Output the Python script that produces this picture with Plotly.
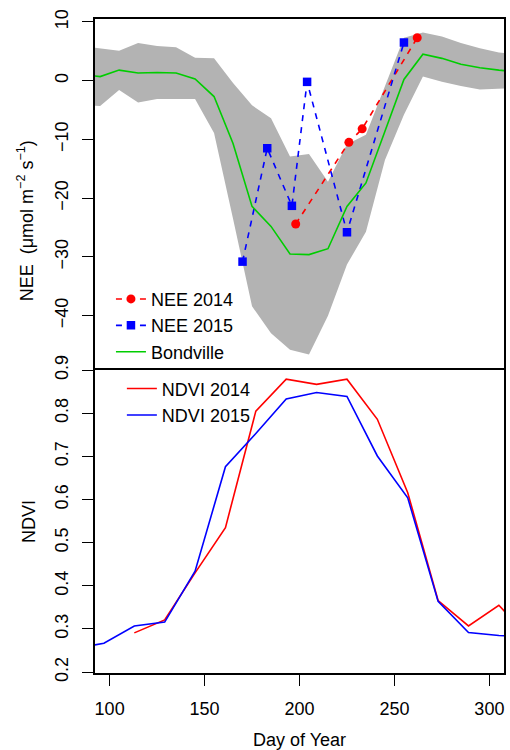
import plotly.graph_objects as go

# ---------------- data ----------------
band_doy = [85, 95, 105, 115, 125, 135, 145, 155, 165, 175, 185, 195,
            205, 215, 225, 235, 245, 255, 265, 275, 285, 295, 305, 315]
bond_mean = [1.1, 0.7, 1.8, 1.3, 1.4, 1.3, 0.3, -2.7, -10.7, -21.4, -24.8, -29.5,
             -29.6, -28.6, -21.4, -17.4, -8.6, 0.2, 4.5, 3.8, 2.8, 2.2, 1.8, 1.5]
bond_upper = [5.9, 5.5, 5.1, 6.4, 5.9, 5.7, 3.9, 3.8, -0.4, -4.2, -6.4, -12.9,
              -12.5, -17.2, -10.8, -9.2, -0.9, 7.3, 8.2, 7.5, 6.4, 5.5, 4.8, 4.5]
bond_lower = [-4.1, -4.3, -1.6, -3.7, -3.1, -3.1, -3.1, -8.9, -23.5, -38.4, -43.0, -45.8,
              -46.6, -40.0, -31.3, -25.7, -13.5, -5.8, 0.7, -0.2, -0.9, -1.5, -1.3, -1.2]

nee2014_doy = [198, 226, 233, 262]
nee2014 = [-24.4, -10.5, -8.2, 7.3]
nee2015_doy = [170, 183, 196, 204, 225, 255]
nee2015 = [-30.8, -11.5, -21.3, -0.2, -25.8, 6.5]

ndvi_doy = [81, 97, 113, 129, 145, 161, 177, 193, 209, 225, 241, 257, 273, 289, 305, 321]
ndvi2014 = [None, None, 0.291, 0.321, 0.430, 0.535, 0.805, 0.879, 0.867, 0.879,
            0.786, 0.616, 0.366, 0.307, 0.355, 0.280]
ndvi2015 = [0.254, 0.267, 0.307, 0.316, 0.434, 0.676, 0.753, 0.833, 0.848, 0.839,
            0.701, 0.604, 0.364, 0.292, 0.285, 0.281]

nee_ticks = [-40, -30, -20, -10, 0, 10]
ndvi_ticks = [0.2, 0.3, 0.4, 0.5, 0.6, 0.7, 0.8, 0.9]
doy_ticks = [100, 150, 200, 250, 300]

# ---------------- figure ----------------
FONT = "Liberation Sans, Arial, sans-serif"
FS = 18
split = 0.4664

fig = go.Figure()

# grey band
fig.add_trace(go.Scatter(
    x=band_doy + band_doy[::-1], y=bond_upper + bond_lower[::-1],
    fill="toself", fillcolor="#b3b3b3", line=dict(width=0),
    mode="lines", showlegend=False, hoverinfo="skip",
    xaxis="x", yaxis="y"))

fig.add_trace(go.Scatter(
    x=nee2014_doy, y=nee2014, name="NEE 2014", mode="lines+markers",
    line=dict(color="#ff0000", width=1.6, dash="6px,6px"),
    marker=dict(symbol="circle", size=9, color="#ff0000"),
    xaxis="x", yaxis="y", legend="legend"))
fig.add_trace(go.Scatter(
    x=nee2015_doy, y=nee2015, name="NEE 2015", mode="lines+markers",
    line=dict(color="#0000ff", width=1.6, dash="6px,6px"),
    marker=dict(symbol="square", size=8.5, color="#0000ff"),
    xaxis="x", yaxis="y", legend="legend"))
fig.add_trace(go.Scatter(
    x=band_doy, y=bond_mean, name="Bondville", mode="lines",
    line=dict(color="#00cd00", width=1.6),
    xaxis="x", yaxis="y", legend="legend"))

fig.add_trace(go.Scatter(
    x=ndvi_doy, y=ndvi2014, name="NDVI 2014", mode="lines",
    line=dict(color="#ff0000", width=1.6),
    xaxis="x2", yaxis="y2", legend="legend2"))
fig.add_trace(go.Scatter(
    x=ndvi_doy, y=ndvi2015, name="NDVI 2015", mode="lines",
    line=dict(color="#0000ff", width=1.6),
    xaxis="x2", yaxis="y2", legend="legend2"))

axis_common = dict(showline=True, linecolor="black", linewidth=1.6, mirror=True,
                   showgrid=False, zeroline=False, ticks="outside", ticklen=11,
                   tickwidth=1.4, tickcolor="black",
                   tickfont=dict(family=FONT, size=FS, color="black"))

fig.update_layout(
    width=510, height=750,
    margin=dict(l=95, r=4, t=19, b=77),
    paper_bgcolor="white", plot_bgcolor="white",
    font=dict(family=FONT, size=FS, color="black"),
    xaxis=dict(axis_common, domain=[0, 1], anchor="y", range=[92.3, 307.7],
               showticklabels=False, ticks=""),
    yaxis=dict(axis_common, domain=[split, 1], anchor="x", range=[-48.9, 10.5],
               tickvals=nee_ticks, ticktext=[("−" + str(-v)) if v < 0 else str(v) for v in nee_ticks],
               tickangle=-90, ticklabelstandoff=7),
    xaxis2=dict(axis_common, domain=[0, 1], anchor="y2", range=[92.3, 307.7],
                tickvals=doy_ticks, mirror=False, ticklabelstandoff=8),
    yaxis2=dict(axis_common, domain=[0, split], anchor="x2", range=[0.198, 0.905],
                tickvals=ndvi_ticks, ticktext=[f"{v:.1f}" for v in ndvi_ticks],
                tickangle=-90, ticklabelstandoff=7),
    legend=dict(x=0.039, y=0.5998, xanchor="left", yanchor="top",
                bgcolor="rgba(0,0,0,0)", borderwidth=0, itemwidth=30,
                font=dict(family=FONT, size=FS, color="black"), tracegroupgap=0),
    legend2=dict(x=0.0657, y=0.4628, xanchor="left", yanchor="top",
                 bgcolor="rgba(0,0,0,0)", borderwidth=0, itemwidth=30,
                 font=dict(family=FONT, size=FS, color="black"), tracegroupgap=0),
    annotations=[
        dict(text="NEE  (μmol m<sup>−2</sup> s<sup>−1</sup>)", xref="paper", yref="paper",
             x=-0.1703, y=0.6911, textangle=-90, showarrow=False,
             xanchor="center", yanchor="middle", font=dict(family=FONT, size=FS)),
        dict(text="NDVI", xref="paper", yref="paper", x=-0.163, y=0.2313,
             textangle=-90, showarrow=False, xanchor="center", yanchor="middle",
             font=dict(family=FONT, size=FS)),
        dict(text="Day of Year", xref="paper", yref="paper", x=0.5, y=-0.1024,
             showarrow=False, xanchor="center", yanchor="middle",
             font=dict(family=FONT, size=FS)),
    ],
)

fig.write_html("out.html")
